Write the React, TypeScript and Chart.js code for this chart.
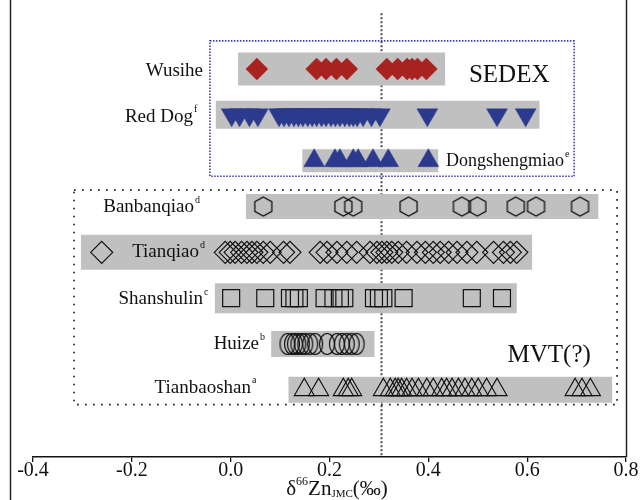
import React, { useEffect, useRef } from 'react';
import { Chart, registerables } from 'chart.js';
Chart.register(...registerables);

// Row index: 1 = bottom (Tianbaoshan) ... 8 = top (Wusihe)
const rowWusihe = 8, rowRedDog = 7, rowDong = 6, rowBanban = 5, rowTianqiao = 4, rowShanshulin = 3, rowHuize = 2, rowTianbao = 1;

const wusihe = [0.053, 0.174, 0.193, 0.214, 0.235, 0.316, 0.338, 0.357, 0.367, 0.378, 0.396];
const redDog = [0.002, 0.018, 0.038, 0.055, 0.098, 0.108, 0.118, 0.128, 0.137, 0.146, 0.156, 0.165, 0.174, 0.184, 0.193, 0.203, 0.212, 0.221, 0.231, 0.24, 0.248, 0.256, 0.268, 0.285, 0.302, 0.398, 0.539, 0.597];
const dongshengmiao = [0.169, 0.211, 0.221, 0.248, 0.258, 0.288, 0.319, 0.4];
const banbanqiao = [0.066, 0.228, 0.248, 0.36, 0.468, 0.499, 0.577, 0.618, 0.707];
const tianqiao = [-0.261, -0.011, -0.001, 0.009, 0.022, 0.033, 0.043, 0.053, 0.066, 0.08, 0.107, 0.12, 0.181, 0.195, 0.215, 0.235, 0.255, 0.282, 0.296, 0.306, 0.316, 0.326, 0.339, 0.356, 0.377, 0.394, 0.41, 0.424, 0.441, 0.458, 0.478, 0.498, 0.532, 0.552, 0.566, 0.579];
const shanshulin = [0.001, 0.07, 0.12, 0.129, 0.138, 0.19, 0.208, 0.221, 0.23, 0.29, 0.3, 0.309, 0.35, 0.488, 0.549];
const huize = [0.115, 0.124, 0.13, 0.137, 0.144, 0.151, 0.161, 0.171, 0.195, 0.215, 0.225, 0.235, 0.245, 0.255];
const tianbaoshan = [0.149, 0.178, 0.228, 0.238, 0.245, 0.309, 0.323, 0.333, 0.339, 0.346, 0.356, 0.367, 0.38, 0.397, 0.41, 0.427, 0.437, 0.448, 0.461, 0.474, 0.488, 0.501, 0.518, 0.539, 0.697, 0.711, 0.728];

// Ranges (gray bars) [min, max] per row
const rangeWusihe = [0.015, 0.434];
const rangeRedDog = [-0.03, 0.625];
const rangeDong = [0.145, 0.42];
const rangeBanban = [0.031, 0.744];
const rangeTianqiao = [-0.303, 0.61];
const rangeShanshulin = [-0.032, 0.579];
const rangeHuize = [0.082, 0.291];
const rangeTianbao = [0.117, 0.772];

const referenceValue = 0.305;
const xTicks = [-0.4, -0.2, 0.0, 0.2, 0.4, 0.6, 0.8];

const SERIF = "'Liberation Serif', 'Times New Roman', serif";

function makeHexagon(): HTMLCanvasElement {
  const c = document.createElement('canvas');
  c.width = 21; c.height = 23;
  const g = c.getContext('2d')!;
  const cx = 10.5, cy = 11.5, hw = 8.5, hh = 9.5;
  g.strokeStyle = '#111'; g.lineWidth = 1.3;
  g.beginPath();
  g.moveTo(cx, cy - hh);
  g.lineTo(cx + hw, cy - hh / 2);
  g.lineTo(cx + hw, cy + hh / 2);
  g.lineTo(cx, cy + hh);
  g.lineTo(cx - hw, cy + hh / 2);
  g.lineTo(cx - hw, cy - hh / 2);
  g.closePath();
  g.stroke();
  return c;
}

function makeEllipse(): HTMLCanvasElement {
  const c = document.createElement('canvas');
  c.width = 20; c.height = 26;
  const g = c.getContext('2d')!;
  g.strokeStyle = '#111'; g.lineWidth = 1.2;
  g.beginPath();
  g.ellipse(10, 13, 7.5, 10.5, 0, 0, Math.PI * 2);
  g.stroke();
  return c;
}

const pts = (vals: number[], row: number) => vals.map(v => ({ x: v, y: row }));
const bar = (r: number[], row: number, h: number) => ({
  data: [{ x: r[0], y: row }, { x: r[1], y: row }],
  showLine: true,
  borderColor: '#c0c0c0',
  borderWidth: h,
  borderCapStyle: 'butt',
  pointRadius: 0,
  order: 5,
});

const siteLabels = [
  { text: 'Wusihe', sup: '', x: 203, row: rowWusihe, align: 'right', dy: 2, size: 19 },
  { text: 'Red Dog', sup: 'f', x: 193, row: rowRedDog, align: 'right', dy: 2, size: 19 },
  { text: 'Dongshengmiao', sup: 'e', x: 446, row: rowDong, align: 'left', dy: 1, size: 18 },
  { text: 'Banbanqiao', sup: 'd', x: 194, row: rowBanban, align: 'right', dy: 1, size: 19 },
  { text: 'Tianqiao', sup: 'd', x: 199, row: rowTianqiao, align: 'right', dy: 0, size: 19 },
  { text: 'Shanshulin', sup: 'c', x: 203, row: rowShanshulin, align: 'right', dy: 1, size: 19 },
  { text: 'Huize', sup: 'b', x: 259, row: rowHuize, align: 'right', dy: 0, size: 19 },
  { text: 'Tianbaoshan', sup: 'a', x: 251, row: rowTianbao, align: 'right', dy: -2, size: 19 },
];

const overlay = {
  id: 'overlay',
  beforeDatasetsDraw(chart: any) {
    const { ctx, scales, chartArea } = chart;
    const px = Math.round(scales.x.getPixelForValue(referenceValue)) + 0.5;
    ctx.save();
    ctx.strokeStyle = '#4a4a4a';
    ctx.lineWidth = 2;
    ctx.setLineDash([2, 2]);
    ctx.beginPath();
    ctx.moveTo(px, chartArea.top);
    ctx.lineTo(px, chartArea.bottom);
    ctx.stroke();
    ctx.restore();
  },
  afterDatasetsDraw(chart: any) {
    const { ctx, scales } = chart;
    const X = (v: number) => scales.x.getPixelForValue(v);
    const Y = (v: number) => scales.y.getPixelForValue(v);
    ctx.save();
    // SEDEX box
    ctx.strokeStyle = '#3a3ab8';
    ctx.lineWidth = 1.6;
    ctx.setLineDash([1.5, 1.5]);
    ctx.strokeRect(X(-0.042), Y(8.614), X(0.695) - X(-0.042), Y(5.659) - Y(8.614));
    // MVT box
    ctx.strokeStyle = '#111';
    ctx.lineWidth = 1.6;
    ctx.setLineDash([1.6, 6.4]);
    ctx.strokeRect(X(-0.317), Y(5.357), X(0.782) - X(-0.317), Y(0.676) - Y(5.357));
    ctx.setLineDash([]);

    ctx.fillStyle = '#111';
    ctx.textBaseline = 'middle';
    for (const l of siteLabels) {
      const y = Y(l.row) + l.dy;
      ctx.font = `${l.size}px ${SERIF}`;
      const w = ctx.measureText(l.text).width;
      const left = l.align === 'right' ? l.x - w : l.x;
      ctx.textAlign = 'left';
      ctx.fillText(l.text, left, y);
      if (l.sup) {
        ctx.font = `10px ${SERIF}`;
        ctx.fillText(l.sup, left + w + 1, y - 7);
      }
    }
    ctx.font = `25px ${SERIF}`;
    ctx.textAlign = 'center';
    ctx.fillText('SEDEX', X(0.5636), Y(7.85));
    ctx.fillText('MVT(?)', X(0.6445), Y(1.755));
    ctx.restore();
  },
  afterDraw(chart: any) {
    const { ctx, chartArea } = chart;
    ctx.save();
    ctx.strokeStyle = '#222';
    ctx.lineWidth = 1.5;
    ctx.beginPath();
    ctx.moveTo(10.5, 0); ctx.lineTo(10.5, 500);
    ctx.moveTo(chartArea.right + 0.5, 0); ctx.lineTo(chartArea.right + 0.5, chartArea.bottom);
    ctx.stroke();
    // axis title
    const parts = [
      { t: 'δ', size: 21, dy: 0 },
      { t: '66', size: 12, dy: -7 },
      { t: 'Zn', size: 21, dy: 0 },
      { t: 'JMC', size: 11, dy: 5 },
      { t: '(‰)', size: 21, dy: 0 },
    ];
    let total = 0;
    for (const p of parts) { ctx.font = `${p.size}px ${SERIF}`; total += ctx.measureText(p.t).width; }
    let x = 337 - total / 2;
    const y = 489;
    ctx.fillStyle = '#111';
    ctx.textBaseline = 'middle';
    ctx.textAlign = 'left';
    for (const p of parts) {
      ctx.font = `${p.size}px ${SERIF}`;
      ctx.fillText(p.t, x, y + p.dy);
      x += ctx.measureText(p.t).width;
    }
    ctx.restore();
  },
};

export default function App() {
  const ref = useRef<HTMLCanvasElement | null>(null);
  useEffect(() => {
    if (!ref.current) return;
    const hex = makeHexagon();
    const ell = makeEllipse();
    const chart = new Chart(ref.current, {
      type: 'scatter',
      data: {
        datasets: [
          { data: pts(wusihe, rowWusihe), pointStyle: 'rectRot', pointRadius: 11, backgroundColor: '#a82220', borderColor: '#a82220', borderWidth: 0.5, order: 0 },
          { data: pts(redDog, rowRedDog), pointStyle: 'triangle', rotation: 180, pointRadius: 12, backgroundColor: '#2c3a8e', borderColor: '#2c3a8e', borderWidth: 0.5, order: 0 },
          { data: pts(dongshengmiao, rowDong), pointStyle: 'triangle', pointRadius: 12, backgroundColor: '#2c3a8e', borderColor: '#2c3a8e', borderWidth: 0.5, order: 0 },
          { data: pts(banbanqiao, rowBanban), pointStyle: hex, order: 0 },
          { data: pts(tianqiao, rowTianqiao), pointStyle: 'rectRot', pointRadius: 11, backgroundColor: 'rgba(0,0,0,0)', borderColor: '#111', borderWidth: 1.2, order: 0 },
          { data: pts(shanshulin, rowShanshulin), pointStyle: 'rect', pointRadius: 12, backgroundColor: 'rgba(0,0,0,0)', borderColor: '#111', borderWidth: 1.2, order: 0 },
          { data: pts(huize, rowHuize), pointStyle: ell, order: 0 },
          { data: pts(tianbaoshan, rowTianbao), pointStyle: 'triangle', pointRadius: 11.5, backgroundColor: 'rgba(0,0,0,0)', borderColor: '#111', borderWidth: 1.2, order: 0 },
          bar(rangeWusihe, rowWusihe, 33),
          bar(rangeRedDog, rowRedDog, 28),
          bar(rangeDong, rowDong, 23),
          bar(rangeBanban, rowBanban, 25),
          bar(rangeTianqiao, rowTianqiao, 35),
          bar(rangeShanshulin, rowShanshulin, 30),
          bar(rangeHuize, rowHuize, 26),
          bar(rangeTianbao, rowTianbao, 26),
        ] as any,
      },
      options: {
        responsive: false,
        animation: false,
        devicePixelRatio: 1,
        layout: { padding: { left: 33, right: 14, top: 8, bottom: 0 } },
        plugins: { legend: { display: false }, tooltip: { enabled: false } },
        scales: {
          x: {
            type: 'linear',
            min: -0.4,
            max: 0.8,
            afterBuildTicks: (s: any) => { s.ticks = xTicks.map(v => ({ value: v })); },
            afterFit: (s: any) => { s.height = 43; },
            ticks: {
              callback: (v: any) => Number(v).toFixed(1),
              font: { family: SERIF, size: 20, lineHeight: 1 },
              color: '#111',
              padding: -1,
              maxRotation: 0,
              autoSkip: false,
            },
            grid: { display: true, drawOnChartArea: false, drawTicks: true, tickLength: 5, color: '#111', lineWidth: 1.3 },
            border: { display: true, color: '#111', width: 1.5 },
          },
          y: { type: 'linear', display: false, min: -0.467, max: 9.219 },
        },
      } as any,
      plugins: [overlay],
    });
    return () => chart.destroy();
  }, []);
  return (
    <div style={{ position: 'absolute', left: 0, top: 0, width: 640, height: 500, background: '#fff' }}>
      <canvas ref={ref} width={640} height={500} style={{ width: 640, height: 500 }} />
    </div>
  );
}
